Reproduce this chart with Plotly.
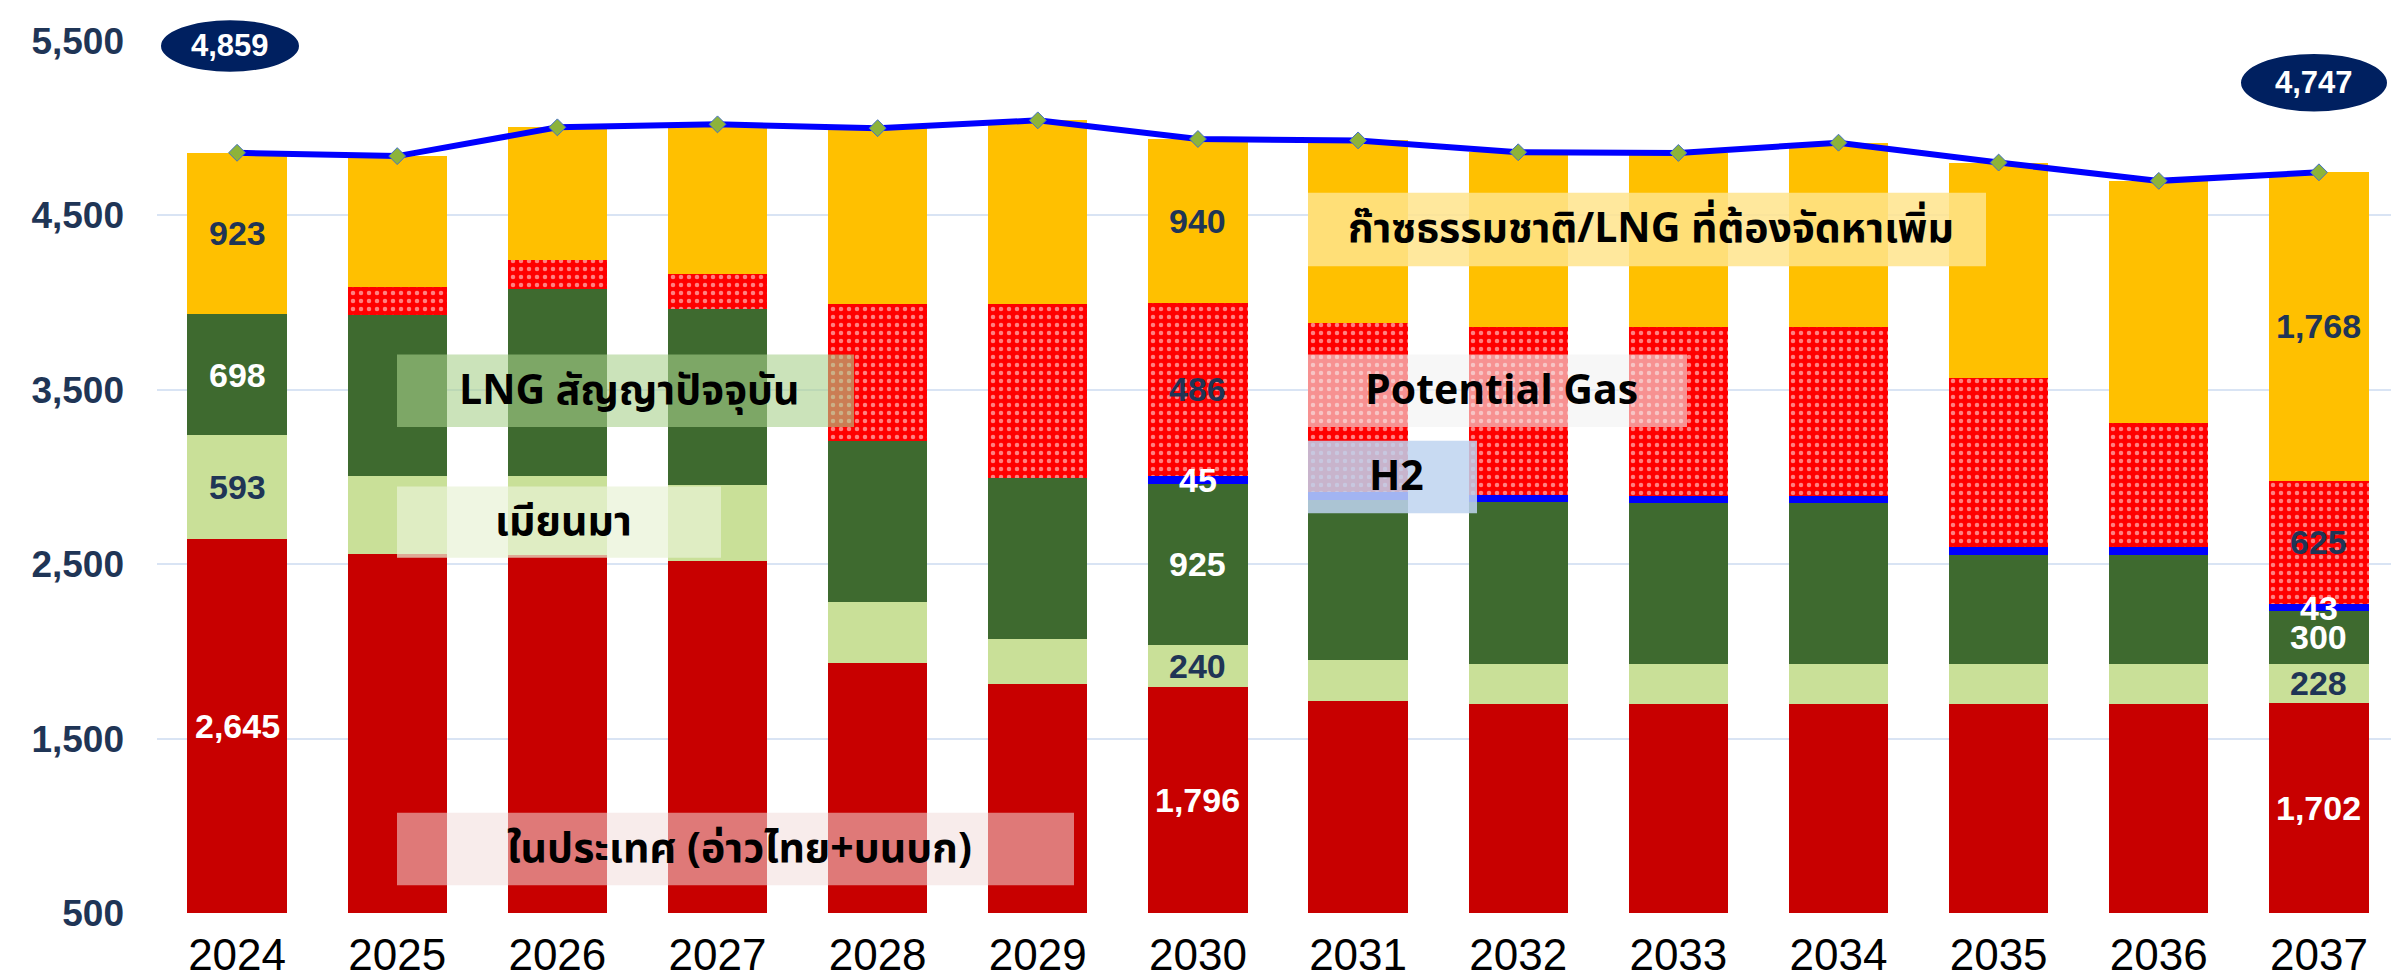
import plotly.graph_objects as go

years = ["2024", "2025", "2026", "2027", "2028", "2029", "2030",
         "2031", "2032", "2033", "2034", "2035", "2036", "2037"]

# MMSCFD by source
domestic = [2645, 2560, 2550, 2519, 1933, 1814, 1796, 1717, 1700, 1700, 1700, 1700, 1700, 1702]
myanmar = [593, 443, 453, 438, 353, 256, 240, 233, 228, 228, 228, 228, 228, 228]
lng_contract = [698, 927, 1075, 1007, 922, 927, 925, 920, 927, 921, 921, 625, 625, 300]
h2 = [0, 0, 0, 0, 0, 0, 45, 45, 40, 40, 40, 46, 46, 43]
potential = [0, 159, 165, 199, 784, 995, 992, 969, 967, 973, 973, 967, 711, 706]
lng_more = [923, 751, 762, 859, 1008, 1053, 940, 1046, 1000, 996, 1055, 1237, 1388, 1768]

# labels printed on the segments (as shown in the source)
lbl_domestic = ["2,645", "", "", "", "", "", "1,796", "", "", "", "", "", "", "1,702"]
lbl_myanmar = ["593", "", "", "", "", "", "240", "", "", "", "", "", "", "228"]
lbl_lng_contract = ["698", "", "", "", "", "", "925", "", "", "", "", "", "", "300"]
lbl_h2 = ["", "", "", "", "", "", "45", "", "", "", "", "", "", "43"]
lbl_potential = ["", "", "", "", "", "", "486", "", "", "", "", "", "", "625"]
lbl_lng_more = ["923", "", "", "", "", "", "940", "", "", "", "", "", "", "1,768"]

total = [sum(v) for v in zip(domestic, myanmar, lng_contract, h2, potential, lng_more)]

NAVY = "#1F3556"
FONT = "Liberation Sans, Arial, sans-serif"
W, H = 2399, 979
ML, MR, MT, MB = 149, 8, 33, 67
Y0, Y1 = 500, 5500

def px(x):
    return (x - ML) / (W - ML - MR)

def py(y):
    return (H - MB - y) / (H - MT - MB)

fig = go.Figure()

series = [
    ("ในประเทศ", domestic, "#C80000", None),
    ("เมียนมา", myanmar, "#C9E098", None),
    ("LNG สัญญาปัจจุบัน", lng_contract, "#3E6A2F", None),
    ("H2", h2, "#0000FF", None),
    ("Potential Gas", potential, "#FF0000", dict(shape=".", fgcolor="white", bgcolor="#FF0000", size=8, solidity=0.25)),
    ("ก๊าซธรรมชาติ/LNG ที่ต้องจัดหาเพิ่ม", lng_more, "#FFC000", None),
]
for name, vals, col, pat in series:
    marker = dict(color=col, line=dict(width=0))
    if pat:
        marker["pattern"] = pat
    fig.add_bar(x=years, y=vals, name=name, marker=marker, hoverinfo="skip")

fig.add_scatter(x=years, y=total, mode="lines+markers", name="รวม",
                line=dict(color="#0000FF", width=6),
                marker=dict(symbol="diamond", size=13, color="#8DB33A",
                            line=dict(color="#4472C4", width=1)))

# segment value labels
label_sets = [
    (domestic, lbl_domestic, "white"),
    (myanmar, lbl_myanmar, NAVY),
    (lng_contract, lbl_lng_contract, "white"),
    (h2, lbl_h2, "white"),
    (potential, lbl_potential, NAVY),
    (lng_more, lbl_lng_more, NAVY),
]
base = [0] * len(years)
for vals, labels, col in label_sets:
    for i, (v, t) in enumerate(zip(vals, labels)):
        lo = max(base[i], Y0)
        mid = (lo + base[i] + v) / 2
        if t:
            fig.add_annotation(x=i, y=mid, text="<b>%s</b>" % t, showarrow=False,
                               font=dict(size=34, color=col, family=FONT))
        base[i] += v

# highlighted totals
ellipses = [
    (153, 291, 12, 64, total[0]),
    (2233, 2379, 46, 104, total[-1]),
]
for x0, x1, y0, y1, v in ellipses:
    fig.add_shape(type="circle", xref="paper", yref="paper", x0=px(x0), x1=px(x1),
                  y0=py(y1), y1=py(y0), fillcolor="#002060", line=dict(width=0), layer="above")
    fig.add_annotation(xref="paper", yref="paper", x=px((x0 + x1) / 2), y=py((y0 + y1) / 2),
                       xanchor="center", yanchor="middle",
                       text="<b>{:,}</b>".format(v), showarrow=False,
                       font=dict(size=31, color="white", family=FONT))

# series name boxes
THAI = "Noto Sans Thai, Noto Sans Thai UI, Tahoma, Liberation Sans, sans-serif"
boxes = [
    (1300, 1978, 186, 260, "rgba(255,228,140,0.85)", "ก๊าซธรรมชาติ/LNG ที่ต้องจัดหาเพิ่ม"),
    (1300, 1679, 349, 422, "rgba(242,242,242,0.6)", "Potential Gas"),
    (1300, 1469, 436, 509, "rgba(190,212,240,0.85)", "H2"),
    (389, 846, 349, 422, "rgba(168,208,140,0.6)", "LNG สัญญาปัจจุบัน"),
    (389, 713, 482, 554, "rgba(232,242,214,0.7)", "เมียนมา"),
    (389, 1066, 811, 884, "rgba(242,220,219,0.55)", "ในประเทศ (อ่าวไทย+บนบก)"),
]
for x0, x1, y0, y1, fill, txt in boxes:
    fig.add_shape(type="rect", xref="paper", yref="paper", x0=px(x0), x1=px(x1),
                  y0=py(y1), y1=py(y0), fillcolor=fill, line=dict(width=0), layer="above")
    fig.add_annotation(xref="paper", yref="paper", x=px((x0 + x1) / 2 + 4), y=py((y0 + y1) / 2),
                       xanchor="center", yanchor="middle",
                       text="<b>%s</b>" % txt, showarrow=False,
                       font=dict(size=41, color="black", family=THAI))

fig.update_layout(
    barmode="stack", bargap=0.38, width=W, height=H,
    margin=dict(l=ML, r=MR, t=MT, b=MB),
    plot_bgcolor="white", paper_bgcolor="white", showlegend=False,
)
fig.update_xaxes(type="category", range=[-0.5, len(years) - 0.5],
                 tickfont=dict(size=44, color="black", family=FONT),
                 ticklabelstandoff=12, showgrid=False, showline=False)
fig.update_yaxes(range=[Y0, Y1], tickvals=[500, 1500, 2500, 3500, 4500, 5500],
                 tickformat=",d", gridcolor="#D9E4F4", gridwidth=2, zeroline=False,
                 tickfont=dict(size=37, color=NAVY, family=FONT, weight="bold"),
                 ticklabelstandoff=32)

fig.write_html("out.html")
